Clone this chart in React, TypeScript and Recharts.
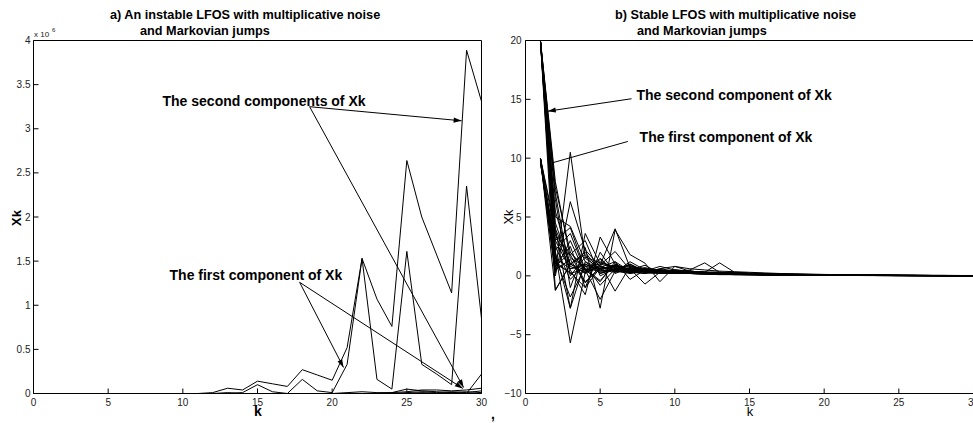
import React from 'react';
import { LineChart, Line, XAxis, YAxis, ReferenceLine, ReferenceDot } from 'recharts';

const FONT = '"Liberation Sans", Arial, Helvetica, sans-serif';

// time steps k = 1..30
const K = [1, 2, 3, 4, 5, 6, 7, 8, 9, 10, 11, 12, 13, 14, 15, 16, 17, 18, 19, 20, 21, 22, 23, 24, 25, 26, 27, 28, 29, 30];
const X_TICKS = [0, 5, 10, 15, 20, 25, 30];
const LEFT_Y_TICKS = [0, 0.5, 1, 1.5, 2, 2.5, 3, 3.5, 4];
const RIGHT_Y_TICKS = [-10, -5, 0, 5, 10, 15, 20];

// a) unstable system, values in units of 1e6
const leftUpper = [0, 0, 0, 0, 0, 0, 0, 0, 0, 0, 0, 0.01, 0.06, 0.04, 0.14, 0.11, 0.08, 0.27, 0.21, 0.15, 0.52, 1.53, 1.07, 0.76, 2.64, 2.0, 1.57, 1.14, 3.89, 3.31];
const leftLower = [0, 0, 0, 0, 0, 0, 0, 0, 0, 0, 0, 0, 0, 0.01, 0.1, 0.02, 0, 0.16, 0.03, 0.01, 0.33, 1.53, 0.16, 0.05, 1.61, 0.33, 0.22, 0.1, 2.35, 0.85];
const leftFlat1 = [0, 0, 0, 0, 0, 0, 0, 0, 0, 0, 0, 0, 0, 0, 0, 0, 0, 0, 0, 0, 0.01, 0.02, 0.01, 0.01, 0.05, 0.03, 0.02, 0.01, 0, 0.22];
const leftFlat2 = [0, 0, 0, 0, 0, 0, 0, 0, 0, 0, 0, 0, 0, 0, 0, 0, 0, 0, 0, 0, 0, 0, 0, 0.01, 0.02, 0.04, 0.04, 0.03, 0.04, 0.06];
const leftFlat3 = [0, 0, 0, 0, 0, 0, 0, 0, 0, 0, 0, 0, 0.01, 0, 0, 0, 0, 0, 0, 0, 0, 0, 0, 0, 0.01, 0.02, 0.01, 0.02, 0.01, 0.03];
const leftFlat4 = [0, 0, 0, 0, 0, 0, 0, 0, 0, 0, 0, 0, 0, 0, 0, 0, 0, 0, 0, 0, 0, 0, 0, 0, 0, 0.01, 0, 0.01, 0.02, 0.01];

// b) stable system, second components (start at 20)
const secB1 = [20, 8, 1.5, 0.8, 1.0, 0.7, 0.6, 0.5, 0.5, 0.4, 0.4, 0.3, 0.3, 0.25, 0.2, 0.2, 0.15, 0.15, 0.12, 0.1, 0.1, 0.08, 0.08, 0.06, 0.05, 0.05, 0.04, 0.04, 0.03, 0.03];
const secB2 = [20, 6.5, -1.0, 2.4, -2.75, 3.9, 1.8, 1.08, -0.5, 0.8, 0.6, 0.5, 0.4, 0.35, 0.3, 0.25, 0.2, 0.18, 0.15, 0.12, 0.1, 0.1, 0.08, 0.06, 0.05, 0.05, 0.04, 0.03, 0.03, 0.02];
const secB3 = [20, 5.0, 4.2, 1.2, 0.6, 0.9, 0.5, 0.7, 0.4, 0.5, 0.35, 0.3, 0.3, 0.2, 0.2, 0.18, 0.15, 0.12, 0.1, 0.1, 0.08, 0.07, 0.06, 0.05, 0.05, 0.04, 0.03, 0.03, 0.02, 0.02];
const secB4 = [20, 4.0, -2.75, 3.6, 1.0, -1.3, 0.8, 0.6, 0.5, 0.3, 0.4, 0.3, 0.25, 0.2, 0.2, 0.15, 0.12, 0.1, 0.1, 0.08, 0.07, 0.06, 0.05, 0.05, 0.04, 0.04, 0.03, 0.03, 0.02, 0.02];
const secB5 = [20, 3.0, 0.5, -1.6, 3.3, 1.0, 0.4, 0.6, 0.3, 0.4, 0.3, 0.25, 0.2, 0.2, 0.15, 0.15, 0.12, 0.1, 0.08, 0.08, 0.06, 0.05, 0.05, 0.04, 0.04, 0.03, 0.03, 0.02, 0.02, 0.02];
const secB6 = [20, 2.0, -5.7, 0.3, 0.8, 0.5, 0.6, 0.3, 0.4, 0.3, 0.25, 0.3, 0.2, 0.2, 0.15, 0.12, 0.1, 0.1, 0.08, 0.07, 0.06, 0.05, 0.05, 0.04, 0.03, 0.03, 0.03, 0.02, 0.02, 0.01];
const secB7 = [20, 1.0, 2.5, -1.0, 0.7, 1.2, -0.3, 0.5, 0.4, 0.3, 0.5, 1.1, 0.3, 0.25, 0.2, 0.15, 0.15, 0.1, 0.1, 0.08, 0.07, 0.06, 0.05, 0.04, 0.04, 0.03, 0.03, 0.02, 0.02, 0.02];
const secB8 = [20, -1.2, 1.0, 0.5, -2.0, 0.4, 1.0, 0.3, 0.6, 0.8, 0.4, 0.3, 0.3, 0.2, 0.2, 0.15, 0.1, 0.12, 0.08, 0.08, 0.06, 0.05, 0.05, 0.04, 0.03, 0.03, 0.02, 0.03, 0.02, 0.01];
const secB9 = [20, 7.0, 0.0, 1.6, 1.1, 0.8, 0.6, -0.7, 0.3, 0.5, 0.4, 0.3, 1.1, 0.3, 0.25, 0.2, 0.15, 0.12, 0.1, 0.1, 0.08, 0.06, 0.05, 0.05, 0.04, 0.03, 0.03, 0.02, 0.02, 0.02];
const secB10 = [20, 0.5, 3.0, 0.2, 0.9, 2.07, 0.5, 0.9, 0.2, 0.4, 0.3, 0.25, 0.2, 0.2, 0.15, 0.12, 0.1, 0.1, 0.08, 0.07, 0.06, 0.05, 0.04, 0.04, 0.03, 0.03, 0.02, 0.02, 0.02, 0.01];
const secB11 = [20, 7.5, 2.0, 0.6, 0.4, 0.5, 0.3, 0.4, 0.3, 0.3, 0.25, 0.2, 0.2, 0.15, 0.12, 0.1, 0.1, 0.08, 0.07, 0.06, 0.05, 0.04, 0.04, 0.03, 0.03, 0.02, 0.02, 0.02, 0.01, 0.01];
const secB12 = [20, 5.5, 1.0, 1.8, 0.2, 0.6, 0.8, 0.4, 0.3, 0.35, 0.3, 0.2, 0.2, 0.15, 0.15, 0.12, 0.1, 0.08, 0.07, 0.06, 0.05, 0.05, 0.04, 0.03, 0.03, 0.02, 0.02, 0.02, 0.01, 0.01];
const secB13 = [20, 4.5, 0.8, 0.3, 1.4, 0.4, 0.3, 0.6, 0.5, 0.3, 0.3, 0.25, 0.2, 0.2, 0.15, 0.12, 0.1, 0.1, 0.08, 0.07, 0.06, 0.05, 0.04, 0.04, 0.03, 0.03, 0.02, 0.02, 0.02, 0.01];
const secB14 = [20, 3.5, 1.8, -0.5, 0.6, 0.9, 0.4, 0.2, 0.6, 0.4, 0.3, 0.3, 0.2, 0.2, 0.15, 0.12, 0.12, 0.1, 0.08, 0.07, 0.06, 0.05, 0.04, 0.04, 0.03, 0.03, 0.02, 0.02, 0.01, 0.01];
const secB15 = [20, 2.5, -0.3, 1.0, 0.5, 0.3, 1.2, 0.5, 0.3, 0.2, 0.3, 0.25, 0.2, 0.15, 0.15, 0.1, 0.1, 0.08, 0.07, 0.06, 0.05, 0.04, 0.04, 0.03, 0.03, 0.02, 0.02, 0.01, 0.01, 0.01];
const secB16 = [20, 1.5, 0.6, 0.9, -0.8, 0.6, 0.5, 0.4, 0.8, 0.5, 0.4, 0.3, 0.25, 0.2, 0.2, 0.15, 0.12, 0.1, 0.1, 0.08, 0.07, 0.06, 0.05, 0.04, 0.03, 0.03, 0.02, 0.02, 0.02, 0.01];

// b) stable system, first components (start near 10)
const firA1 = [10, 0.25, 10.5, 1.5, 0.6, 0.8, 0.5, 0.4, 0.5, 0.3, 0.35, 0.3, 0.25, 0.2, 0.2, 0.15, 0.12, 0.1, 0.1, 0.08, 0.07, 0.06, 0.05, 0.05, 0.04, 0.03, 0.03, 0.02, 0.02, 0.02];
const firA2 = [10, 0.0, 6.3, 2.2, 0.8, 0.5, 1.0, 0.4, 0.3, 0.4, 0.3, 0.2, 0.25, 0.2, 0.15, 0.12, 0.12, 0.1, 0.08, 0.07, 0.06, 0.05, 0.05, 0.04, 0.03, 0.03, 0.02, 0.02, 0.02, 0.01];
const firA3 = [9.5, 3.0, 4.1, 0.5, -0.5, 1.2, 0.4, 0.6, 0.3, 0.3, 0.3, 0.25, 0.2, 0.15, 0.15, 0.12, 0.1, 0.08, 0.08, 0.06, 0.05, 0.05, 0.04, 0.03, 0.03, 0.03, 0.02, 0.02, 0.01, 0.01];
const firA4 = [10, 2.0, -2.75, 1.2, 0.2, 0.6, 0.9, 0.3, 0.4, 0.3, 0.2, 0.2, 0.2, 0.15, 0.12, 0.1, 0.1, 0.08, 0.07, 0.06, 0.05, 0.04, 0.04, 0.03, 0.03, 0.02, 0.02, 0.02, 0.01, 0.01];
const firA5 = [10, -1.25, 1.0, 2.0, 0.4, 0.7, 0.3, 0.5, 0.3, 0.2, 0.3, 0.2, 0.15, 0.15, 0.12, 0.1, 0.08, 0.08, 0.06, 0.05, 0.05, 0.04, 0.03, 0.03, 0.03, 0.02, 0.02, 0.01, 0.01, 0.01];
const firA6 = [9.8, 1.0, 0.3, -1.0, 2.0, 0.2, 0.7, 0.5, 0.3, 0.3, 0.25, 0.2, 0.2, 0.15, 0.12, 0.1, 0.1, 0.08, 0.06, 0.06, 0.05, 0.04, 0.04, 0.03, 0.02, 0.02, 0.02, 0.02, 0.01, 0.01];
const firA7 = [10, 4.0, 1.0, 0.2, 1.5, 0.3, 0.6, 0.4, 0.2, 0.3, 0.2, 0.2, 0.15, 0.12, 0.12, 0.1, 0.08, 0.07, 0.06, 0.05, 0.04, 0.04, 0.03, 0.03, 0.02, 0.02, 0.02, 0.01, 0.01, 0.01];
const firA8 = [10, 1.5, -1.8, 0.8, 0.5, 0.9, 0.2, 0.4, 0.3, 0.2, 0.2, 0.15, 0.15, 0.1, 0.1, 0.08, 0.07, 0.06, 0.05, 0.05, 0.04, 0.03, 0.03, 0.03, 0.02, 0.02, 0.02, 0.01, 0.01, 0.01];
const firA9 = [9.6, 2.5, 1.8, 3.0, 0.0, 0.6, 0.4, 0.3, 0.3, 0.25, 0.2, 0.2, 0.15, 0.12, 0.1, 0.1, 0.08, 0.07, 0.06, 0.05, 0.04, 0.04, 0.03, 0.03, 0.02, 0.02, 0.02, 0.01, 0.01, 0.01];
const firA10 = [10, 0.8, 2.0, 0.5, 0.9, 4.0, 0.7, 0.5, 0.3, 0.3, 0.25, 0.2, 0.15, 0.15, 0.12, 0.1, 0.08, 0.07, 0.06, 0.05, 0.05, 0.04, 0.03, 0.03, 0.02, 0.02, 0.02, 0.02, 0.01, 0.01];
const firA11 = [10, 3.5, 0.6, 1.0, 0.3, 0.5, 0.6, 0.3, 0.2, 0.3, 0.2, 0.2, 0.15, 0.1, 0.1, 0.08, 0.07, 0.06, 0.05, 0.05, 0.04, 0.03, 0.03, 0.02, 0.02, 0.02, 0.01, 0.01, 0.01, 0.01];
const firA12 = [9.7, 0.5, 1.4, -0.6, 0.8, 0.4, 0.2, 0.5, 0.4, 0.2, 0.2, 0.15, 0.15, 0.12, 0.1, 0.08, 0.07, 0.06, 0.05, 0.04, 0.04, 0.03, 0.03, 0.02, 0.02, 0.02, 0.01, 0.01, 0.01, 0.01];
const firA13 = [10, 2.2, 3.6, 0.4, 1.2, 0.6, 0.3, 0.2, 0.3, 0.25, 0.2, 0.15, 0.12, 0.12, 0.1, 0.08, 0.07, 0.06, 0.05, 0.04, 0.04, 0.03, 0.03, 0.02, 0.02, 0.01, 0.01, 0.01, 0.01, 0.01];
const firA14 = [9.9, 1.2, 0.2, 0.6, -0.4, 1.0, 0.5, 0.3, 0.2, 0.2, 0.2, 0.15, 0.1, 0.1, 0.08, 0.08, 0.06, 0.05, 0.05, 0.04, 0.03, 0.03, 0.02, 0.02, 0.02, 0.01, 0.01, 0.01, 0.01, 0.01];

const LEFT_SERIES: Record<string, number[]> = {
  upper: leftUpper, lower: leftLower, f1: leftFlat1, f2: leftFlat2, f3: leftFlat3, f4: leftFlat4,
};
const RIGHT_SERIES: Record<string, number[]> = {
  b1: secB1, b2: secB2, b3: secB3, b4: secB4, b5: secB5, b6: secB6, b7: secB7, b8: secB8,
  b9: secB9, b10: secB10, b11: secB11, b12: secB12, b13: secB13, b14: secB14, b15: secB15, b16: secB16,
  a1: firA1, a2: firA2, a3: firA3, a4: firA4, a5: firA5, a6: firA6, a7: firA7,
  a8: firA8, a9: firA9, a10: firA10, a11: firA11, a12: firA12, a13: firA13, a14: firA14,
};

const toRows = (series: Record<string, number[]>) =>
  K.map((k, i) => {
    const row: Record<string, number> = { k };
    Object.keys(series).forEach((id) => { row[id] = series[id][i]; });
    return row;
  });

const leftRows = toRows(LEFT_SERIES);
const rightRows = toRows(RIGHT_SERIES);

// arrowhead at the (x2, y2) end of a reference segment
const ArrowShape = (p: any) => {
  const x1 = Number(p.x1), y1 = Number(p.y1), x2 = Number(p.x2), y2 = Number(p.y2);
  const a = Math.atan2(y2 - y1, x2 - x1);
  const len = 8, half = 2.6;
  const bx = x2 - len * Math.cos(a), by = y2 - len * Math.sin(a);
  const pts = `${x2},${y2} ${bx + half * Math.sin(a)},${by - half * Math.cos(a)} ${bx - half * Math.sin(a)},${by + half * Math.cos(a)}`;
  return (
    <g>
      <line x1={x1} y1={y1} x2={x2} y2={y2} stroke="#000" strokeWidth={1} />
      <polygon points={pts} fill="#000" />
    </g>
  );
};

const tickStyle = { fontSize: 10, fill: '#222', fontFamily: FONT };
const minus = (v: number) => (v < 0 ? '\u2212' + Math.abs(v) : String(v));

const annLabel = (value: string) => ({
  value, position: 'right' as const, offset: 0, fontSize: 14, fontWeight: 'bold', fill: '#000', fontFamily: FONT,
});

// the four sides of a matlab style box with inward ticks
// (an axis of zero size is not drawn, so the top/right ones get 1px)
const boxAxes = (yDomain: number[], yTicks: number[], leftMargin: number, fmt?: (v: number) => string) => [
  <XAxis key="xb" dataKey="k" type="number" domain={[0, 30]} ticks={X_TICKS} interval={0} height={20}
    tickSize={-5} tickMargin={10} tick={tickStyle} axisLine={{ stroke: '#000' }} tickLine={{ stroke: '#000' }} />,
  <XAxis key="xt" xAxisId="top" dataKey="k" orientation="top" type="number" domain={[0, 30]} ticks={X_TICKS} interval={0} height={1}
    tickSize={-5} tick={false} axisLine={{ stroke: '#000' }} tickLine={{ stroke: '#000' }} />,
  <YAxis key="yl" type="number" domain={yDomain} ticks={yTicks} interval={0} width={30} tickFormatter={fmt}
    tickSize={-5} tickMargin={leftMargin} tick={tickStyle} axisLine={{ stroke: '#000' }} tickLine={{ stroke: '#000' }} />,
  <YAxis key="yr" yAxisId="right" orientation="right" type="number" domain={yDomain} ticks={yTicks} interval={0} width={1}
    tickSize={-5} tick={false} axisLine={{ stroke: '#000' }} tickLine={{ stroke: '#000' }} />,
];

export default function App() {
  return (
    <div style={{ position: 'absolute', left: 0, top: 0, width: 973, height: 423, overflow: 'hidden', background: '#fff' }}>
      <div style={{ position: 'absolute', left: 0, top: 0 }}>
        <LineChart width={490} height={423} data={leftRows} margin={{ top: 39.5, right: 7.5, bottom: 9.5, left: 3.5 }}>
          {boxAxes([0, 4], LEFT_Y_TICKS, 8)}
          {Object.keys(LEFT_SERIES).map((id) => (
            <Line key={id} dataKey={id} type="linear" stroke="#000" strokeWidth={1} dot={false} isAnimationActive={false} />
          ))}
          {/* same series on the top/right axes so that the box sides get drawn */}
          <Line dataKey="upper" xAxisId="top" yAxisId="right" stroke="none" dot={false} isAnimationActive={false} />
          <ReferenceLine segment={[{ x: 18.49, y: 3.25 }, { x: 28.67, y: 3.09 }]} shape={ArrowShape} />
          <ReferenceLine segment={[{ x: 18.49, y: 3.25 }, { x: 28.8, y: 0.068 }]} shape={ArrowShape} />
          <ReferenceLine segment={[{ x: 17.82, y: 1.26 }, { x: 20.76, y: 0.295 }]} shape={ArrowShape} />
          <ReferenceLine segment={[{ x: 17.82, y: 1.26 }, { x: 28.75, y: 0.057 }]} shape={ArrowShape} />
          <ReferenceDot x={8.64} y={3.31} r={0} fill="none" stroke="none" label={annLabel('The second components of Xk')} />
          <ReferenceDot x={9.11} y={1.348} r={0} fill="none" stroke="none" label={annLabel('The first component of Xk')} />
        </LineChart>
      </div>

      <div style={{ position: 'absolute', left: 490, top: 0 }}>
        <LineChart width={488} height={423} data={rightRows} margin={{ top: 39.5, right: 3.5, bottom: 9.5, left: 5.5 }}>
          {boxAxes([-10, 20], RIGHT_Y_TICKS, 9, minus)}
          {Object.keys(RIGHT_SERIES).map((id) => (
            <Line key={id} dataKey={id} type="linear" stroke="#000" strokeWidth={1} dot={false} isAnimationActive={false} />
          ))}
          <Line dataKey="b1" xAxisId="top" yAxisId="right" stroke="none" dot={false} isAnimationActive={false} />
          <ReferenceLine segment={[{ x: 7.1, y: 15.05 }, { x: 1.49, y: 13.99 }]} shape={ArrowShape} />
          <ReferenceLine segment={[{ x: 6.85, y: 11.42 }, { x: 1.81, y: 9.61 }]} stroke="#000" strokeWidth={1} />
          <ReferenceDot x={7.43} y={15.35} r={0} fill="none" stroke="none" label={annLabel('The second component of Xk')} />
          <ReferenceDot x={7.64} y={11.78} r={0} fill="none" stroke="none" label={annLabel('The first component of Xk')} />
        </LineChart>
      </div>

      <svg width={973} height={423} style={{ position: 'absolute', left: 0, top: 0, pointerEvents: 'none' }} fontFamily={FONT}>
        <text x={110} y={19} fontSize={12.7} fontWeight="bold">a) An instable LFOS with multiplicative noise</text>
        <text x={140} y={35} fontSize={12.7} fontWeight="bold">and Markovian jumps</text>
        <text x={615} y={19} fontSize={12.7} fontWeight="bold">b) Stable LFOS with multiplicative noise</text>
        <text x={637} y={35} fontSize={12.7} fontWeight="bold">and Markovian jumps</text>
        <text x={34} y={37} fontSize={8} fill="#222">x 10</text>
        <text x={52} y={32} fontSize={6} fill="#222">6</text>
        <text x={21} y={218} fontSize={13} fontWeight="bold" textAnchor="middle" transform="rotate(-90 21 218)">Xk</text>
        <text x={513} y={217} fontSize={13} textAnchor="middle" transform="rotate(-90 513 217)">Xk</text>
        <text x={258} y={416} fontSize={14} fontWeight="bold" textAnchor="middle">k</text>
        <text x={750} y={416} fontSize={13} textAnchor="middle">k</text>
        <text x={491} y={419} fontSize={14} fontWeight="bold">,</text>
      </svg>
    </div>
  );
}
